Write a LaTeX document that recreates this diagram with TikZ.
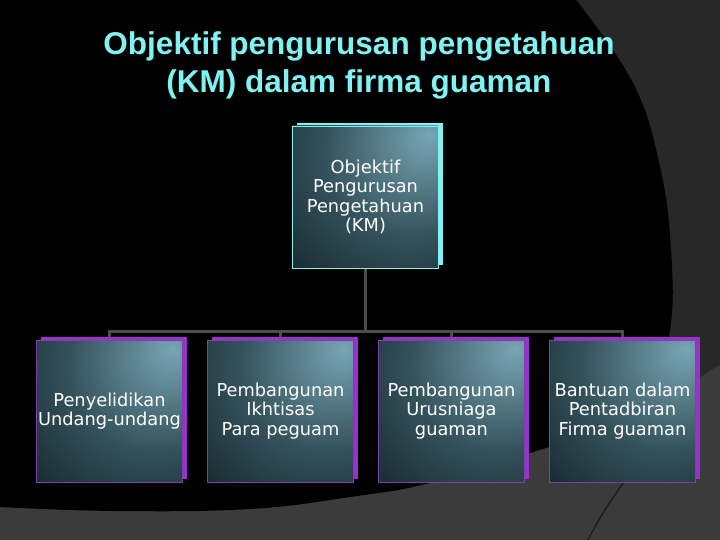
\documentclass[tikz,border=0pt]{standalone}
\usepackage{fontspec}
\usetikzlibrary{shadows}
\newfontfamily\titlefont{Liberation Sans}
\newfontfamily\boxfont{DejaVu Sans}
\definecolor{bggray}{HTML}{3B3B3B}
\definecolor{bgdark}{HTML}{282828}
\definecolor{arcline}{HTML}{1E1E1E}
\definecolor{titlecyan}{HTML}{80F2F2}
\definecolor{kmpurple}{HTML}{9B30D0}
\definecolor{kmedge}{HTML}{7E3FA8}
\definecolor{wiregray}{HTML}{4D4D4D}
\definecolor{glowhi}{HTML}{78A6B4}
\definecolor{glowmid}{HTML}{34525C}
\definecolor{glowlo}{HTML}{0E1A1F}
\definecolor{glowdark}{HTML}{091115}
\pgfdeclareradialshading{boxglow}{\pgfpoint{22bp}{22bp}}{color(0bp)=(glowhi); color(30bp)=(glowmid); color(62bp)=(glowlo); color(80bp)=(glowdark); color(110bp)=(glowdark)}
\pgfdeclarelayer{back}
\pgfdeclarelayer{wires}
\pgfsetlayers{back,wires,main}
\tikzset{
  chartbox/.style={shading=boxglow, line width=0.8pt, minimum width=146pt, minimum height=142pt,
    inner sep=1pt, text=white, align=center, font=\boxfont\fontsize{17.8}{19.5}\selectfont},
  topbox/.style={chartbox, draw=titlecyan, general shadow={fill=titlecyan, shadow xshift=4pt, shadow yshift=3pt}},
  leafbox/.style={chartbox, draw=kmedge, general shadow={fill=kmpurple, shadow xshift=4pt, shadow yshift=3.5pt}},
  wire/.style={wiregray, line width=3pt}
}
\begin{document}
\begin{tikzpicture}[x=1pt,y=-1pt]
\useasboundingbox (0,0) rectangle (720,540);
\begin{pgfonlayer}{back}
\fill[bggray] (0,0) rectangle (720,540);
\fill[bgdark] (570,0) -- (720,0) -- (720,365) .. controls (705,372) and (688,386) .. (672,405) -- (600,405) -- cycle;
\fill[black] (0,0) -- plot[smooth, tension=0.7] coordinates {(576,0) (633,83) (660,167) (671,250) (670,330) (650,390) (600,428) (530,453) (430,483) (350,497) (250,509) (115,511) (0,507)} -- cycle;
\draw[arcline, line width=1.5pt] (588,540) .. controls (602,512) and (615,495) .. (632,470);
\end{pgfonlayer}

\node[text=titlecyan, align=center, inner sep=0pt,
  font=\titlefont\bfseries\fontsize{31.5}{38}\selectfont] (title) at (359,65)
  {Objektif pengurusan pengetahuan\\(KM) dalam firma guaman};

\node[topbox] (km) at (365.5,197) {Objektif\\Pengurusan\\Pengetahuan\\(KM)};
\node[leafbox] (b1) at (109.5,411) {Penyelidikan\\Undang-undang};
\node[leafbox] (b2) at (280.5,411) {Pembangunan\\Ikhtisas\\Para peguam};
\node[leafbox] (b3) at (451.5,411) {Pembangunan\\Urusniaga\\guaman};
\node[leafbox] (b4) at (622.5,411) {Bantuan dalam\\Pentadbiran\\Firma guaman};

\coordinate (hub) at ([yshift=-63pt]km.south);
\begin{pgfonlayer}{wires}
\draw[wire] (km.south) -- (hub);
\foreach \b in {b1,b2,b3,b4}
  \draw[wire] (hub) -| (\b.north);
\end{pgfonlayer}
\end{tikzpicture}
\end{document}
